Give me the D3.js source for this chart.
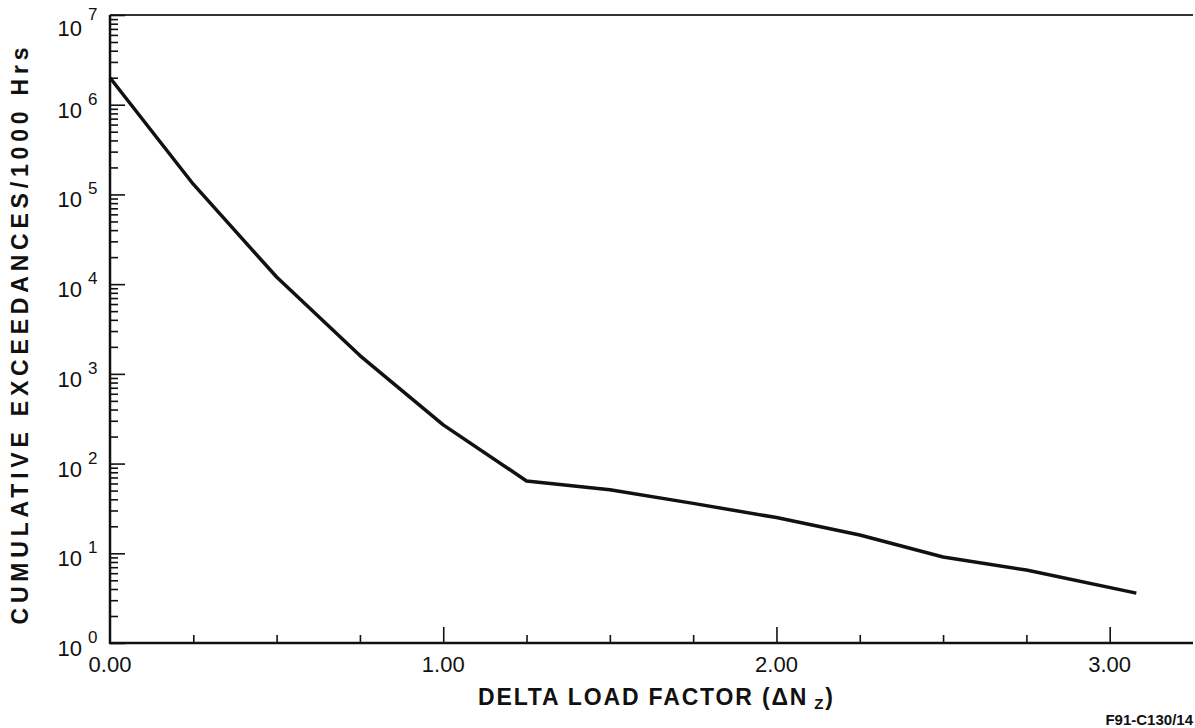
<!DOCTYPE html>
<html>
<head>
<meta charset="utf-8">
<script src="https://cdn.jsdelivr.net/npm/d3@7"></script>
<style>
  body { margin: 0; background: #fff; }
  svg { display: block; font-family: "Liberation Sans", Arial, Helvetica, sans-serif; }
</style>
</head>
<body>
<div id="vis"></div>
<script>
// Data
const loadFactor = [0, 0.25, 0.5, 0.75, 1.0, 1.25, 1.5, 1.75, 2.0, 2.25, 2.5, 2.75, 3.08];
const exceedances = [2.0e6, 1.3e5, 1.2e4, 1600, 270, 64, 51, 36, 25, 16, 9.1, 6.5, 3.6];

const xTickValues = [0.25, 0.5, 0.75, 1, 1.25, 1.5, 1.75, 2, 2.25, 2.5, 2.75, 3];
const xMajorTicks = [1, 2, 3];
const xTickLabels = ['0.00', '1.00', '2.00', '3.00'];
const yDecades = [0, 1, 2, 3, 4, 5, 6, 7];

const W = 1195, H = 728;
const plot = { left: 110, right: 1193, top: 15, bottom: 643 };

const svg = d3.select('#vis')
    .append('svg')
    .attr('width', W)
    .attr('height', H);

const xScale = d3.scaleLinear()
    .domain([0, 3.25])
    .range([plot.left, plot.right]);

const yScale = d3.scaleLog()
    .domain([1, 1e7])
    .range([plot.bottom, plot.top]);

// minor log ticks 2..9 in each decade
let yMinor = [];
for (let k = 0; k < 7; k++) {
    for (let m = 2; m <= 9; m++) yMinor.push(m * Math.pow(10, k));
}

// top frame line
svg.append('line')
    .attr('x1', plot.left).attr('x2', plot.right)
    .attr('y1', plot.top).attr('y2', plot.top)
    .attr('stroke', '#333')
    .attr('stroke-width', 2);

// left axis - ticks point inward
const yAxisMajor = d3.axisRight(yScale)
    .tickValues(yDecades.map(d => Math.pow(10, d)))
    .tickSize(15)
    .tickFormat('');
const yAxisMinor = d3.axisRight(yScale)
    .tickValues(yMinor)
    .tickSize(8)
    .tickFormat('');

svg.append('g')
    .attr('class', 'axis')
    .attr('transform', `translate(${plot.left},0)`)
    .call(yAxisMinor);
svg.append('g')
    .attr('class', 'axis')
    .attr('transform', `translate(${plot.left},0)`)
    .call(yAxisMajor);

// bottom axis - ticks point up
const xAxisMinor = d3.axisTop(xScale)
    .tickValues(xTickValues.filter(d => !xMajorTicks.includes(d)))
    .tickSize(8)
    .tickFormat('');
const xAxisMajor = d3.axisTop(xScale)
    .tickValues(xMajorTicks)
    .tickSize(16)
    .tickFormat('');

svg.append('g')
    .attr('class', 'axis')
    .attr('transform', `translate(0,${plot.bottom})`)
    .call(xAxisMinor);
svg.append('g')
    .attr('class', 'axis')
    .attr('transform', `translate(0,${plot.bottom})`)
    .call(xAxisMajor);

svg.selectAll('.axis .domain').remove();
svg.selectAll('.axis line')
    .attr('stroke', '#111')
    .attr('stroke-width', 1.6);

// axis lines
svg.append('line')
    .attr('x1', plot.left).attr('x2', plot.left)
    .attr('y1', plot.top).attr('y2', plot.bottom + 1)
    .attr('stroke', '#111')
    .attr('stroke-width', 2.5);
svg.append('line')
    .attr('x1', plot.left - 1).attr('x2', plot.right)
    .attr('y1', plot.bottom).attr('y2', plot.bottom)
    .attr('stroke', '#111')
    .attr('stroke-width', 2.5);

// y tick labels 10^n
svg.append('g')
    .selectAll('text')
    .data(yDecades)
    .join('text')
    .attr('x', 82)
    .attr('y', d => yScale(Math.pow(10, d)) + 13 + (d === 7 ? 8 : 0)) // top label sits lower
    .attr('text-anchor', 'end')
    .style('font-size', '22px')
    .attr('fill', '#111')
    .text('10');
svg.append('g')
    .selectAll('text')
    .data(yDecades)
    .join('text')
    .attr('x', 88)
    .attr('y', d => yScale(Math.pow(10, d)) + (d === 7 ? 5 : 0))
    .style('font-size', '17px')
    .attr('fill', '#111')
    .text(d => d);

// x tick labels
svg.append('g')
    .selectAll('text')
    .data(xTickLabels)
    .join('text')
    .attr('x', d => xScale(+d))
    .attr('y', 672)
    .attr('text-anchor', 'middle')
    .style('font-size', '22px')
    .attr('fill', '#111')
    .text(d => d);

// the curve
const line = d3.line()
    .x((d, i) => xScale(loadFactor[i]))
    .y(d => yScale(d));

svg.append('path')
    .datum(exceedances)
    .attr('d', line)
    .attr('fill', 'none')
    .attr('stroke', '#111')
    .attr('stroke-width', 3.5)
    .attr('stroke-linejoin', 'round');

// x axis title
const xt = svg.append('text')
    .attr('x', 478)
    .attr('y', 705)
    .style('font-size', '23px')
    .style('font-weight', 'bold')
    .attr('fill', '#111');
xt.append('tspan').text('DELTA  LOAD  FACTOR  (\u0394N');
xt.append('tspan').attr('dy', 4).style('font-size', '15px').text(' Z');
xt.append('tspan').attr('dy', -4).text(')');
xt.attr('textLength', 355).attr('lengthAdjust', 'spacing');

// y axis title
svg.append('text')
    .attr('transform', 'translate(28,336) rotate(-90)')
    .attr('text-anchor', 'middle')
    .style('font-size', '23px')
    .style('font-weight', 'bold')
    .attr('fill', '#111')
    .attr('textLength', 577)
    .attr('lengthAdjust', 'spacing')
    .text('CUMULATIVE  EXCEEDANCES/1000 Hrs');

// figure id
svg.append('text')
    .attr('x', 1193)
    .attr('y', 725)
    .attr('text-anchor', 'end')
    .style('font-size', '15px')
    .style('font-weight', 'bold')
    .attr('fill', '#111')
    .text('F91-C130/14');
</script>
</body>
</html>
